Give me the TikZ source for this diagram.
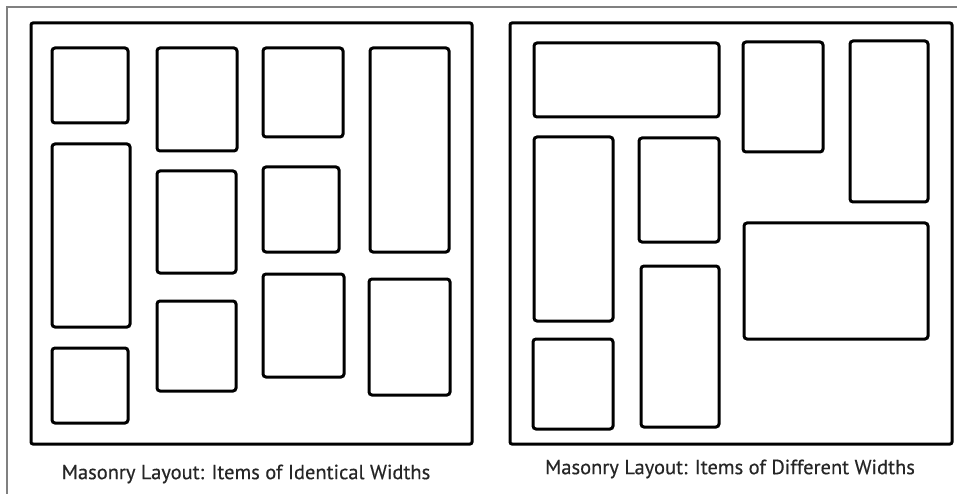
\documentclass[tikz,border=0pt]{standalone}
\usepackage{fontspec}
\setmainfont{PT Sans}[FakeBold=0.4]
\begin{document}
\begin{tikzpicture}[x=1pt,y=-1pt,
  panel/.style={draw=black, line width=3pt, rounded corners=2pt, inner sep=0pt, fill=white},
  item/.style={draw=black, line width=3pt, rounded corners=3pt, inner sep=0pt},
  caption/.style={font=\fontsize{20.5}{23}\selectfont, text=black!85, inner sep=0pt},
  edge/.style={draw=black!50, line width=1.2pt}]
\useasboundingbox (0,0) rectangle (957,494);
\fill[white] (0,0) rectangle (957,494);
% thin frame lines
\coordinate (tl) at (7,7);
\coordinate (tr) at (957,7);
\coordinate (bl) at (7,494);
\draw[edge] (tr) -- (tl) -- (bl);
% left panel
\node[panel, minimum width=441pt, minimum height=421pt] (lp) at (251.5,233.5) {};
\node[item, minimum width=76pt, minimum height=75pt]  (a1) at (90,85.5) {};
\node[item, minimum width=78pt, minimum height=183pt] (a2) at (91,235.5) {};
\node[item, minimum width=76pt, minimum height=75pt]  (a3) at (90,385.5) {};
\node[item, minimum width=80pt, minimum height=103pt] (b1) at (197,99.5) {};
\node[item, minimum width=79pt, minimum height=102pt] (b2) at (196.5,222) {};
\node[item, minimum width=79pt, minimum height=90pt]  (b3) at (196.5,346) {};
\node[item, minimum width=80pt, minimum height=89pt]  (c1) at (303,92.5) {};
\node[item, minimum width=76pt, minimum height=85pt]  (c2) at (301,209.5) {};
\node[item, minimum width=81pt, minimum height=103pt] (c3) at (303.5,325.5) {};
\node[item, minimum width=79pt, minimum height=204pt] (d1) at (409.5,150) {};
\node[item, minimum width=81pt, minimum height=116pt] (d2) at (409.5,337) {};
% right panel
\node[panel, minimum width=442pt, minimum height=421pt] (rp) at (731,233.5) {};
\node[item, minimum width=185pt, minimum height=74pt]  (e1) at (626.5,80) {};
\node[item, minimum width=79pt, minimum height=184pt]  (e2) at (573.5,229) {};
\node[item, minimum width=80pt, minimum height=90pt]   (e3) at (573,384) {};
\node[item, minimum width=80pt, minimum height=104pt]  (f1) at (679,190) {};
\node[item, minimum width=78pt, minimum height=161pt]  (f2) at (680,346.5) {};
\node[item, minimum width=80pt, minimum height=110pt]  (g1) at (783,97) {};
\node[item, minimum width=78pt, minimum height=161pt]  (h1) at (889,121.5) {};
\node[item, minimum width=184pt, minimum height=116pt] (g2) at (836,281) {};
% captions
\node[caption] (lcap) at (246,474) {Masonry Layout: Items of Identical Widths};
\node[caption] (rcap) at (730,469) {Masonry Layout: Items of Different Widths};
\end{tikzpicture}
\end{document}
